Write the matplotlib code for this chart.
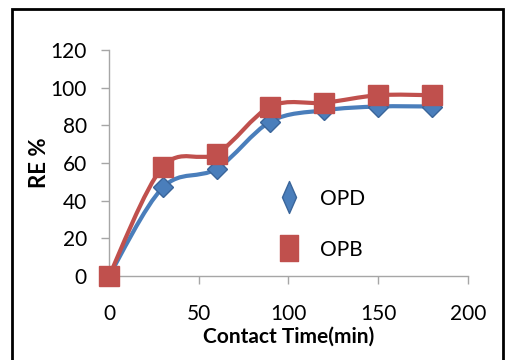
import matplotlib
matplotlib.use("Agg")
import matplotlib.pyplot as plt
from matplotlib.path import Path
from matplotlib.patches import PathPatch, Rectangle
from matplotlib.lines import Line2D

# contact time (min) and removal efficiency (%)
time_min = [0, 30, 60, 90, 120, 150, 180]
re_opd = [0, 47, 57, 82, 88, 90, 90]
re_opb = [0, 58, 65, 90, 92, 96, 96]

BLUE = "#4A7EBB"
BLUE_EDGE = "#3A659A"
RED = "#C0504D"

plt.rcParams["font.family"] = ["Lato", "DejaVu Sans"]


def smooth_path(xs, ys):
    # cubic Bezier segments through the points (spreadsheet-style smoothing)
    pts = list(zip(xs, ys))
    verts = [pts[0]]
    codes = [Path.MOVETO]
    n = len(pts)
    for i in range(n - 1):
        p0 = pts[max(i - 1, 0)]
        p1 = pts[i]
        p2 = pts[i + 1]
        p3 = pts[min(i + 2, n - 1)]
        c1 = (p1[0] + (p2[0] - p0[0]) / 6, p1[1] + (p2[1] - p0[1]) / 6)
        c2 = (p2[0] - (p3[0] - p1[0]) / 6, p2[1] - (p3[1] - p1[1]) / 6)
        verts += [c1, c2, p2]
        codes += [Path.CURVE4] * 3
    return Path(verts, codes)


# stretched legend symbols
thin_diamond = Path([(0, 1), (0.44, 0), (0, -1), (-0.44, 0), (0, 1)], closed=True)
tall_square = Path([(-0.35, -0.5), (0.35, -0.5), (0.35, 0.5), (-0.35, 0.5), (-0.35, -0.5)],
                   closed=True)

fig = plt.figure(figsize=(5.08, 3.6), dpi=100)
ax = fig.add_axes([0.2146, 0.2333, 0.7064, 0.6278])

ax.add_patch(PathPatch(smooth_path(time_min, re_opd), fill=False, lw=3, color=BLUE, zorder=2))
ax.plot(time_min, re_opd, ls="none", marker="D", ms=10, mfc=BLUE, mec=BLUE_EDGE,
        clip_on=False, zorder=3)
ax.add_patch(PathPatch(smooth_path(time_min, re_opb), fill=False, lw=3, color=RED, zorder=4))
ax.plot(time_min, re_opb, ls="none", marker="s", ms=14, mfc=RED, mec=RED,
        clip_on=False, zorder=5)

ax.set_xlim(0, 200)
ax.set_ylim(0, 120)
ax.set_xticks(range(0, 201, 50))
ax.set_yticks(range(0, 121, 20))
for s in ["top", "right"]:
    ax.spines[s].set_visible(False)
for s in ["left", "bottom"]:
    ax.spines[s].set_color("#A6A6A6")
    ax.spines[s].set_linewidth(1)
ax.tick_params(axis="both", colors="#A6A6A6", labelcolor="black", labelsize=15, length=6, width=1)
ax.tick_params(axis="x", pad=14)
ax.tick_params(axis="y", pad=10)

ax.set_xlabel("Contact Time(min)", fontsize=15, fontweight="bold", labelpad=2)
ax.set_ylabel("RE %", fontsize=16, fontweight="bold", labelpad=0)

handles = [
    Line2D([], [], ls="none", marker=thin_diamond, ms=23, mfc=BLUE, mec=BLUE_EDGE),
    Line2D([], [], ls="none", marker=tall_square, ms=19, mfc=RED, mec=RED),
]
ax.legend(handles, ["OPD", "OPB"], loc="upper left", bbox_to_anchor=(0.39, 0.47),
          frameon=False, fontsize=15, labelspacing=1.5, handletextpad=0.5)

# outer frame
fig.patches.append(Rectangle((0.024, -0.01), 0.966, 0.985, transform=fig.transFigure,
                             fill=False, lw=2, ec="black"))

fig.savefig("out.png", dpi=100)
